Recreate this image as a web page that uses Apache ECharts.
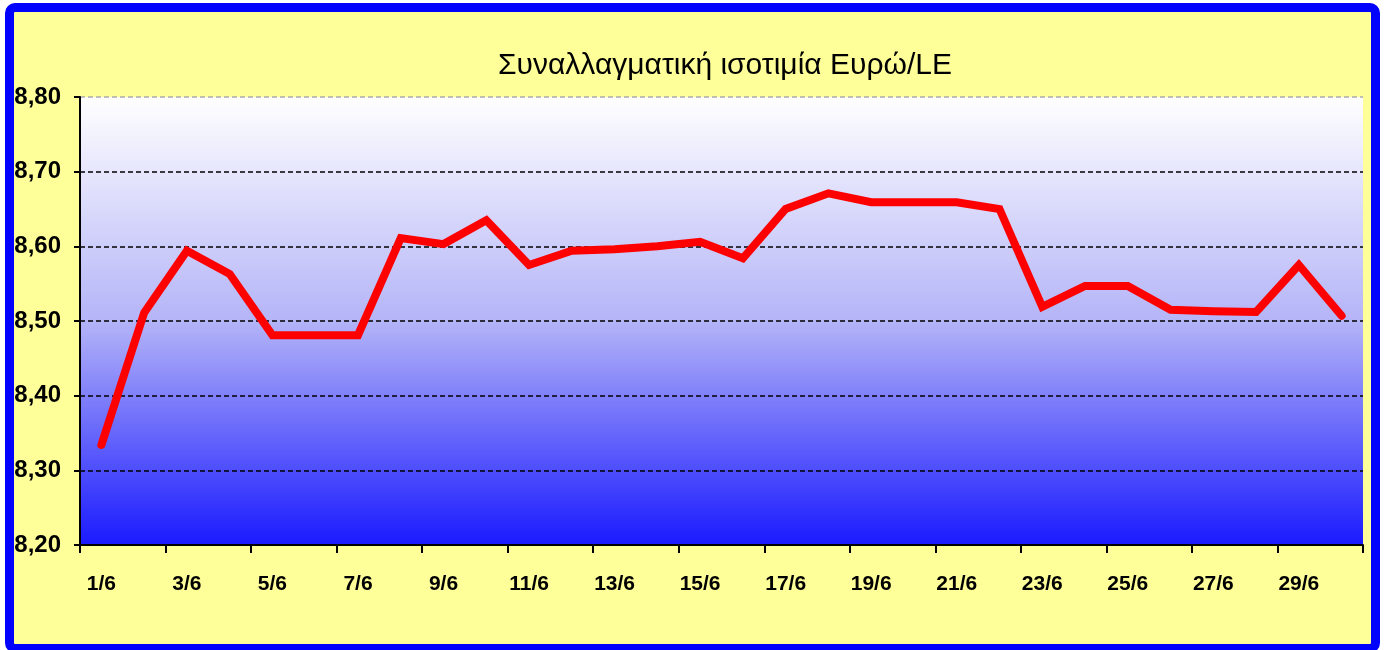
<!DOCTYPE html>
<html>
<head>
<meta charset="utf-8">
<script src="https://cdn.jsdelivr.net/npm/echarts@6/dist/echarts.min.js"></script>
<style>
    body { margin: 0; background: #ffffff; }
    #frame {
        position: absolute; left: 5px; top: 3px; width: 1375px; height: 650px;
        box-sizing: border-box; border: 9px solid #0000ff; border-radius: 10px;
        background: #ffff99;
    }
    #chart { position: absolute; left: 0; top: 0; width: 1385px; height: 650px; }
</style>
</head>
<body>
<div id="frame"></div>
<div id="chart"></div>
<script>
// ημερομηνίες Ιουνίου
var days = []
for (var d = 1; d <= 30; d++) days.push(d + '/6')

// ισοτιμία Ευρώ/LE
var rates = [
    8.334, 8.511, 8.594, 8.563, 8.481, 8.481, 8.481, 8.611, 8.603, 8.635,
    8.575, 8.594, 8.596, 8.600, 8.606, 8.584, 8.650, 8.671, 8.659, 8.659,
    8.659, 8.650, 8.519, 8.547, 8.547, 8.515, 8.513, 8.512, 8.575, 8.507,
]

var yMin = 8.2
var yMax = 8.8
var yStep = 0.1

var myChart = echarts.init(document.getElementById('chart'))
var option = {
    backgroundColor: 'transparent',
    animation: false,
    title: {
        text: 'Συναλλαγματική ισοτιμία Ευρώ/LE',
        left: 720,
        top: 46,
        textAlign: 'center',
        textStyle: {
            fontFamily: 'Liberation Sans',
            fontSize: 30,
            fontWeight: 'normal',
            color: '#000',
        },
    },
    grid: {
        left: 80,
        right: 22,
        top: 97,
        bottom: 105,
        show: true,
        borderWidth: 0,
        backgroundColor: new echarts.graphic.LinearGradient(0, 0, 0, 1, [
            { offset: 0, color: '#ffffff' },
            { offset: 0.5, color: '#b4b4f8' },
            { offset: 1, color: '#1a1aff' },
        ]),
    },
    xAxis: {
        type: 'category',
        data: days,
        boundaryGap: true,
        axisLine: { lineStyle: { color: '#000', width: 2 } },
        axisTick: { show: true, interval: 1, length: 8, lineStyle: { color: '#000', width: 2 } },
        axisLabel: {
            interval: 1,
            margin: 29,
            color: '#000',
            fontFamily: 'Liberation Sans',
            fontWeight: 'bold',
            fontSize: 21,
        },
    },
    yAxis: {
        type: 'value',
        min: yMin,
        max: yMax,
        interval: yStep,
        axisLine: { show: true, lineStyle: { color: '#000', width: 2 } },
        axisTick: { show: true, length: 6, lineStyle: { color: '#000', width: 2 } },
        axisLabel: {
            margin: 19,
            color: '#000',
            fontFamily: 'Liberation Sans',
            fontWeight: 'bold',
            fontSize: 24,
            formatter: function (v) {
                return v.toFixed(2).replace('.', ',')
            },
        },
        splitLine: {
            show: true,
            lineStyle: {
                color: ['#000', '#000', '#000', '#000', '#000', '#000', '#aaa'],
                type: [5, 3],
                width: 1.5,
            },
        },
    },
    series: [
        {
            type: 'line',
            data: rates,
            symbol: 'none',
            lineStyle: { color: '#ff0000', width: 8, cap: 'round', join: 'miter' },
        },
    ],
}
myChart.setOption(option)
</script>
</body>
</html>
